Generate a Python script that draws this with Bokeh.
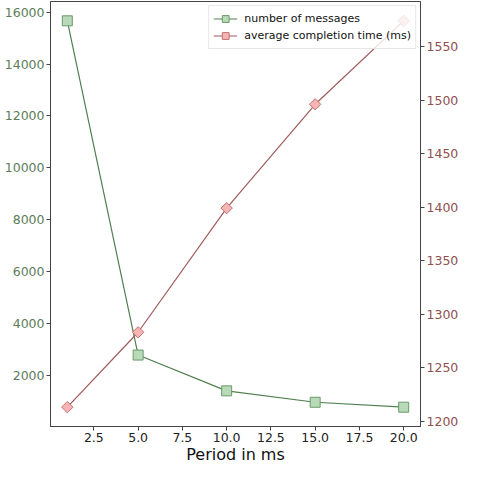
import math
from bokeh.plotting import figure
from bokeh.models import Range1d, LinearAxis, FixedTicker, NumeralTickFormatter, Legend, LegendItem
from bokeh.embed import file_html
from bokeh.resources import INLINE

period = [1, 5, 10, 15, 20]
messages = [15670, 2780, 1400, 960, 770]
completion = [1213, 1283, 1399, 1496, 1574]

x_ticks = [2.5, 5.0, 7.5, 10.0, 12.5, 15.0, 17.5, 20.0]
left_ticks = [2000, 4000, 6000, 8000, 10000, 12000, 14000, 16000]
right_ticks = [1200, 1250, 1300, 1350, 1400, 1450, 1500, 1550]

def pad(vals, f=0.05):
    lo, hi = min(vals), max(vals)
    d = (hi - lo) * f
    return lo - d, hi + d

GREEN_LINE = "#4f7f4f"
GREEN_FILL = "#b8dab8"
GREEN_EDGE = "#6a9a6a"
GREEN_TXT = "#5b7d5b"
RED_LINE = "#a05a5a"
RED_FILL = "#f6b4b4"
RED_EDGE = "#c27272"
RED_TXT = "#8f5050"
FONT = "DejaVu Sans"

xr = pad(period)
yl = pad(messages)
yr = pad(completion)

p = figure(width=461, height=466, output_backend="svg", toolbar_location=None,
           x_range=Range1d(*xr), y_range=Range1d(*yl),
           min_border_left=50, min_border_right=0, min_border_top=1, min_border_bottom=0)
p.extra_y_ranges = {"right": Range1d(*yr)}
p.grid.visible = False
p.outline_line_color = "#444444"
p.outline_line_width = 1
p.background_fill_color = "white"

l1 = p.line(period, messages, line_color=GREEN_LINE, line_width=1.2)
s1 = p.scatter(period, messages, marker="square", size=10, fill_color=GREEN_FILL,
               line_color=GREEN_EDGE, line_width=1)
l2 = p.line(period, completion, y_range_name="right", line_color=RED_LINE, line_width=1.2)
s2 = p.scatter(period, completion, y_range_name="right", marker="square", angle=math.pi / 4,
               size=8, fill_color=RED_FILL, line_color=RED_EDGE, line_width=1)

ax_r = LinearAxis(y_range_name="right")
p.add_layout(ax_r, "right")

for ax in [p.xaxis[0], p.yaxis[0], ax_r]:
    ax.axis_line_color = "#444444"
    ax.major_tick_line_color = "#444444"
    ax.minor_tick_line_color = None
    ax.major_tick_out = 4
    ax.major_tick_in = 0
    ax.major_label_standoff = 2
    ax.major_label_text_font = FONT
    ax.major_label_text_font_size = "12.5px"

p.xaxis[0].ticker = FixedTicker(ticks=x_ticks)
p.xaxis[0].formatter = NumeralTickFormatter(format="0.0")
p.xaxis[0].major_label_text_color = "#222222"
p.xaxis[0].axis_label = "Period in ms"
p.xaxis[0].axis_label_text_font = FONT
p.xaxis[0].axis_label_text_font_size = "16px"
p.xaxis[0].axis_label_text_font_style = "normal"
p.xaxis[0].axis_label_text_color = "#111111"
p.xaxis[0].axis_label_standoff = 0

p.yaxis[0].ticker = FixedTicker(ticks=left_ticks)
p.yaxis[0].major_label_text_color = GREEN_TXT
ax_r.ticker = FixedTicker(ticks=right_ticks)
ax_r.major_label_text_color = RED_TXT

legend = Legend(items=[LegendItem(label="number of messages", renderers=[l1, s1]),
                       LegendItem(label="average completion time (ms)", renderers=[l2, s2])],
                location="top_right")
legend.label_text_font = FONT
legend.label_text_font_size = "11px"
legend.label_text_color = "#111111"
legend.border_line_color = "#d0d0d0"
legend.background_fill_alpha = 0.8
legend.margin = 4
legend.padding = 4
legend.spacing = 0
legend.glyph_width = 24
legend.glyph_height = 17
legend.label_height = 17
legend.label_standoff = 7
p.add_layout(legend, "center")

open("out.html", "w").write(file_html(p, INLINE))
